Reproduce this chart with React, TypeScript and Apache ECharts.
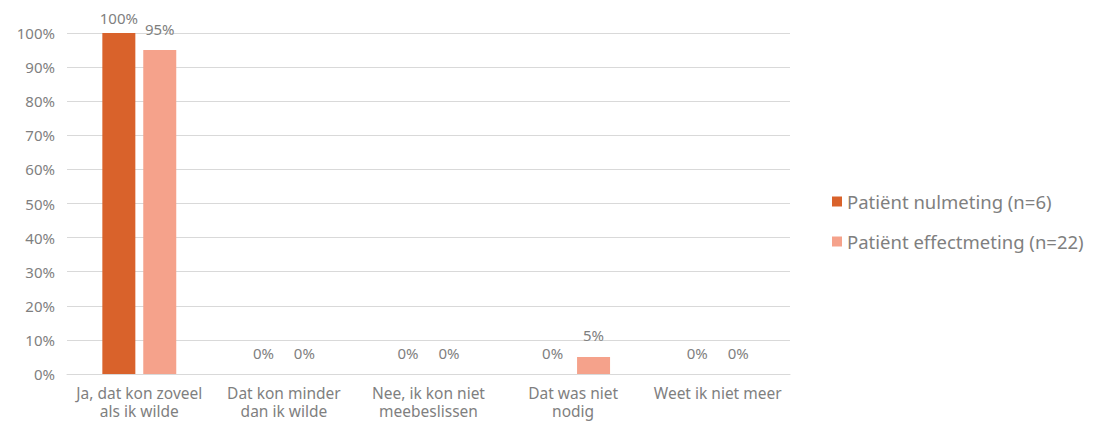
import React, { useEffect, useRef } from "react";
import * as echarts from "echarts";

const categories = [
  "Ja, dat kon zoveel\nals ik wilde",
  "Dat kon minder\ndan ik wilde",
  "Nee, ik kon niet\nmeebeslissen",
  "Dat was niet\nnodig",
  "Weet ik niet meer",
];
const seriesNames = ["Patiënt nulmeting (n=6)", "Patiënt effectmeting (n=22)"];
const nulmeting = [100, 0, 0, 0, 0];
const effectmeting = [95, 0, 0, 5, 0];
const colors = ["#D9622B", "#F5A28B"];

const FONT = "'Noto Sans', sans-serif";
const GRAY = "#7F7F7F";

export default function App() {
  const ref = useRef<HTMLDivElement>(null);
  useEffect(() => {
    const chart = echarts.init(ref.current!, null, { renderer: "svg" });
    const label = {
      show: true,
      position: "top",
      distance: 14,
      color: GRAY,
      fontFamily: FONT,
      fontSize: 15,
      formatter: (p: any) => `${p.value}%`,
    };
    const toData = (vals: number[]) =>
      vals.map((v) => (v >= 100 ? { value: v, label: { distance: 8 } } : v));
    chart.setOption({
      animation: false,
      textStyle: { fontFamily: FONT },
      grid: { left: 67, right: 306, top: 33, bottom: 48, outerBoundsMode: "none", containLabel: false },
      legend: {
        orient: "vertical",
        left: 827,
        top: 187,
        itemWidth: 10,
        itemHeight: 10,
        itemGap: 21,
        icon: "rect",
        textStyle: { color: GRAY, fontSize: 18.5, fontFamily: FONT },
        data: seriesNames,
      },
      xAxis: {
        type: "category",
        data: categories,
        axisLine: { lineStyle: { color: "#D9D9D9" } },
        axisTick: { show: false },
        axisLabel: {
          color: GRAY,
          fontSize: 15.5,
          fontFamily: FONT,
          lineHeight: 18,
          margin: 10,
          interval: 0,
        },
      },
      yAxis: {
        type: "value",
        min: 0,
        max: 100,
        interval: 10,
        axisLine: { show: false },
        axisTick: { show: false },
        splitLine: { lineStyle: { color: "#D9D9D9" } },
        axisLabel: {
          color: GRAY,
          fontSize: 15,
          fontFamily: FONT,
          margin: 12,
          formatter: (v: number) => `${v}%`,
        },
      },
      series: [
        {
          name: seriesNames[0],
          type: "bar",
          data: toData(nulmeting),
          barWidth: 33,
          barGap: "24%",
          itemStyle: { color: colors[0] },
          label,
        },
        {
          name: seriesNames[1],
          type: "bar",
          data: toData(effectmeting),
          barWidth: 33,
          barGap: "24%",
          itemStyle: { color: colors[1] },
          label,
        },
      ],
    });
    return () => chart.dispose();
  }, []);
  return (
    <div
      ref={ref}
      style={{ position: "absolute", left: 0, top: 0, width: 1096, height: 422 }}
    />
  );
}
